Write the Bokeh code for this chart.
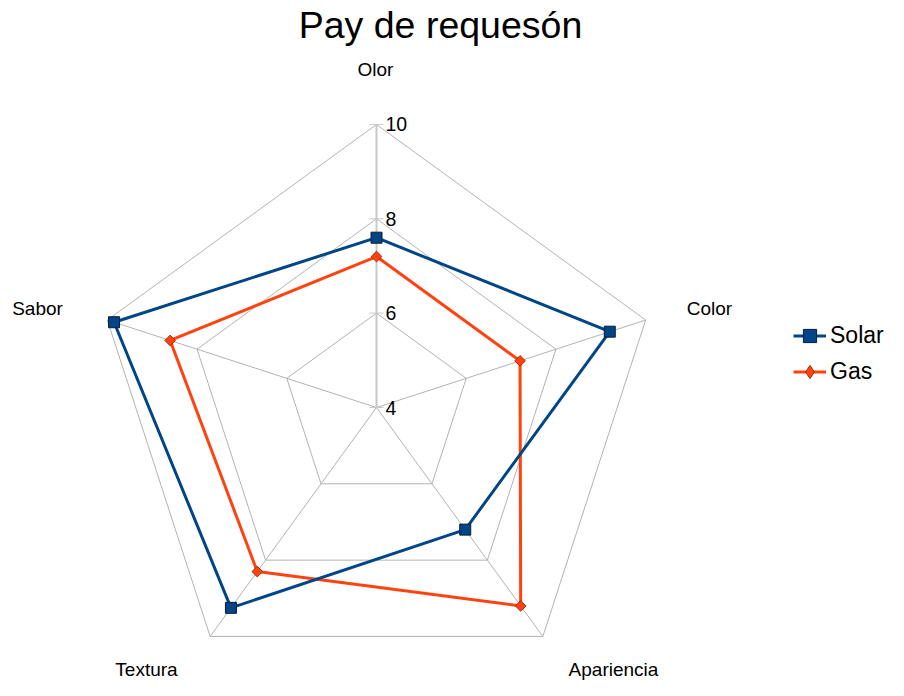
import numpy as np
from bokeh.plotting import figure
from bokeh.models import Label, Legend, LegendItem, Range1d
from bokeh.core.properties import value
from bokeh.embed import file_html
from bokeh.resources import INLINE

# ---------------- data ----------------
title = "Pay de requesón"
categories = ["Olor", "Color", "Apariencia", "Textura", "Sabor"]
solar = [7.6, 9.2, 7.2, 9.25, 9.85]
gas = [7.2, 7.2, 9.2, 8.3, 8.6]
tick_values = [4, 6, 8, 10]
tick_labels = ["4", "6", "8", "10"]
r_min, r_max = 4, 10

# ---------------- layout ----------------
W, H = 888, 680
S = 47.17            # pixels per unit
cx, cy = 376, 407    # centre, figure pixels from top-left
FONT = "Liberation Sans"
SOLAR_C = "#004586"
GAS_C = "#ff420e"
GRID_C = "#b3b3b3"

p = figure(width=W, height=H, output_backend="svg", toolbar_location=None,
           x_range=Range1d(-cx / S, (W - cx) / S),
           y_range=Range1d(-(H - cy) / S, cy / S),
           min_border=0, outline_line_color=None)
p.axis.visible = False
p.grid.visible = False
p.background_fill_color = "white"
p.border_fill_color = "white"

n = len(categories)
ang = np.deg2rad(90 - 72 * np.arange(n))


def polar(vals):
    r = np.asarray(vals, dtype=float) - r_min
    x = r * np.cos(ang)
    y = r * np.sin(ang)
    return list(x) + [x[0]], list(y) + [y[0]]


# grid pentagons
for t in tick_values[1:]:
    gx, gy = polar([t] * n)
    p.line(gx, gy, line_color=GRID_C, line_width=1)

# spokes
for i in range(n):
    lw = 2 if i == 0 else 1
    col = "#c8c8c8" if i == 0 else GRID_C
    p.line([0, (r_max - r_min) * np.cos(ang[i])], [0, (r_max - r_min) * np.sin(ang[i])],
           line_color=col, line_width=lw)

# ticks on Olor axis
tk_y = [t - r_min for t in tick_values]
p.segment(x0=[-7 / S] * len(tk_y), x1=[7 / S] * len(tk_y), y0=tk_y, y1=tk_y,
          line_color="#c8c8c8", line_width=1)

# tick labels
p.text(x=[0] * len(tk_y), y=tk_y, text=tick_labels, x_offset=9,
       text_baseline="middle", text_align="left",
       text_font=value(FONT), text_font_size="19.5px", text_color="black")

# series
sx, sy = polar(solar)
gx, gy = polar(gas)
l_gas = p.line(gx, gy, line_color=GAS_C, line_width=3)
m_gas = p.scatter(gx[:-1], gy[:-1], marker="square", size=7.5, angle=np.pi / 4,
                  fill_color=GAS_C, line_color="#a02a08", line_width=1)
l_sol = p.line(sx, sy, line_color=SOLAR_C, line_width=3)
m_sol = p.scatter(sx[:-1], sy[:-1], marker="square", size=11,
                  fill_color=SOLAR_C, line_color="#0a1e33", line_width=1)
# legend-only diamond glyph for Gas (a single undrawn NaN point)
leg_gas_marker = p.scatter(x=[float("nan")], y=[float("nan")], marker="diamond", size=10,
                           fill_color=GAS_C, line_color="#a02a08", line_width=1)

# category labels: (centre x, middle y) in figure px from top-left
cat_pos = {"Olor": (375, 69), "Color": (709, 308), "Apariencia": (613, 669),
           "Textura": (146, 669), "Sabor": (37, 308)}
for c in categories:
    x, y = cat_pos[c]
    p.add_layout(Label(x=x, y=H - y, x_units="screen", y_units="screen", text=c,
                       text_align="center", text_baseline="middle",
                       text_font=FONT, text_font_size="19px", text_color="black"))

# title
p.add_layout(Label(x=440, y=H - 24, x_units="screen", y_units="screen", text=title,
                   text_align="center", text_baseline="middle",
                   text_font=FONT, text_font_size="37.5px", text_color="black"))

# legends (one per row so marker sizes can differ)
common = dict(orientation="vertical", glyph_width=33, label_standoff=4,
              padding=0, margin=0, border_line_alpha=0, background_fill_alpha=0,
              label_text_font=FONT, label_text_font_size="23px",
              label_text_color="black",
              label_text_baseline="middle", label_height=20)
leg1 = Legend(items=[LegendItem(label="Solar", renderers=[l_sol, m_sol])],
              location=(793, H - 335 - 17.5), glyph_height=35, **common)
leg2 = Legend(items=[LegendItem(label="Gas", renderers=[l_gas, leg_gas_marker])],
              location=(793, H - 371 - 18.5), glyph_height=37, **common)
p.add_layout(leg1, "center")
p.add_layout(leg2, "center")

open("out.html", "w").write(file_html(p, INLINE))
